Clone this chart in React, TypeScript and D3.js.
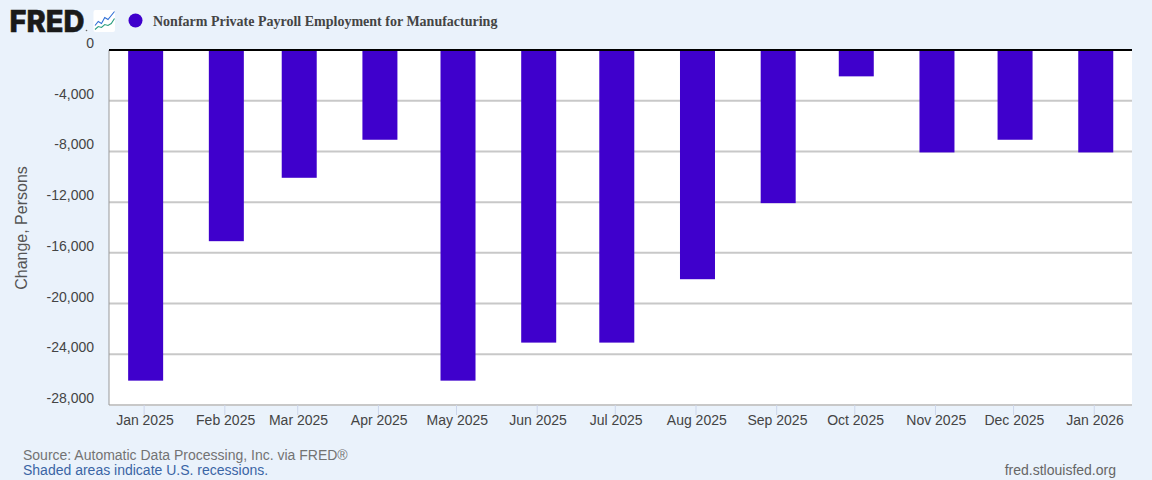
import * as d3 from "d3";

const months = [
  "2025-01-01", "2025-02-01", "2025-03-01", "2025-04-01", "2025-05-01", "2025-06-01", "2025-07-01",
  "2025-08-01", "2025-09-01", "2025-10-01", "2025-11-01", "2025-12-01", "2026-01-01",
];
const changes = [-26000, -15000, -10000, -7000, -26000, -23000, -23000, -18000, -12000, -2000, -8000, -7000, -8000];
const yTicks = [0, -4000, -8000, -12000, -16000, -20000, -24000, -28000];
// little zigzags of the logo icon
const logoBlue = [15, 11, 13, 7, 9, 5, 1];
const logoGreen = [19, 16, 17, 14, 15, 13, 8];

const width = 1152;
const height = 480;
const margin = { top: 50, right: 20, bottom: 75, left: 109 };
const sans = "Arial, 'Liberation Sans', sans-serif";
const bgColor = "#eaf2fb";
const barColor = "#3f00cc";
const barOverhang = 1;

const parse = d3.utcParse("%Y-%m-%d");
const dates = months.map((m) => parse(m) as Date);
const fmt = d3.utcFormat("%b %Y");
const tickFmt = d3.formatLocale({ decimal: ".", thousands: ",", grouping: [3], currency: ["$", ""], minus: "-" }).format(",");

export default function App() {
  const x = d3
    .scaleUtc()
    .domain([d3.utcHour.offset(dates[0], -324), d3.utcHour.offset(dates[12], 348)])
    .range([margin.left, width - margin.right]);
  const y = d3.scaleLinear().domain([0, -28000]).range([margin.top, height - margin.bottom]);

  const iconX = d3.scaleLinear().domain([0, 6]).range([95, 114.5]);
  const iconY = d3.scaleLinear().domain([0, 20]).range([10.5, 30.5]);
  const iconLine = d3
    .line<number>()
    .x((_, i) => iconX(i))
    .y((d) => iconY(d));

  return (
    <svg width={width} height={height} style={{ position: "absolute", left: 0, top: 0, display: "block" }} fontFamily={sans}>
      <rect width={width} height={height} fill={bgColor} />

      <text x={9.5} y={32} fontFamily="Inter, Arial, sans-serif" fontWeight={800} fontSize={30} fill="#1a1a1a" stroke="#1a1a1a" strokeWidth={0.6} textLength={75} lengthAdjust="spacingAndGlyphs">
        FRED
      </text>
      <circle cx={86.5} cy={30.5} r={0.8} fill="#666" />
      <rect x={93.5} y={10} width={21.5} height={22} rx={2} fill="#fff" />
      <path d={iconLine(logoBlue) ?? ""} fill="none" stroke="#2f6fd6" strokeWidth={1.1} />
      <path d={iconLine(logoGreen) ?? ""} fill="none" stroke="#2a9d7e" strokeWidth={1.1} />

      <circle cx={135.5} cy={20.5} r={7} fill={barColor} />
      <text x={153} y={26} fontFamily="'Liberation Serif', 'Times New Roman', serif" fontWeight={700} fontSize={14} fill="#444">
        Nonfarm Private Payroll Employment for Manufacturing
      </text>

      <rect x={margin.left} y={margin.top} width={width - margin.left - margin.right} height={height - margin.top - margin.bottom} fill="#fff" />

      {yTicks.slice(1).map((t) => (
        <line key={t} x1={margin.left} x2={width - margin.right} y1={y(t)} y2={y(t)} stroke="#c8c8c8" strokeWidth={2} />
      ))}

      {dates.map((d, i) => (
        <rect key={months[i]} x={x(d) - 17.5 + 1.5} y={y(0)} width={35} height={y(changes[i]) - y(0) + barOverhang} fill={barColor} />
      ))}

      <line x1={margin.left} x2={margin.left} y1={margin.top} y2={height - margin.bottom} stroke="#999" strokeWidth={1} />
      <line x1={margin.left} x2={width - margin.right} y1={y(0)} y2={y(0)} stroke="#000" strokeWidth={2} />

      {yTicks.map((t) => (
        <text key={t} x={94} y={y(t) - 2} textAnchor="end" fontSize={14} fill="#444">
          {tickFmt(t)}
        </text>
      ))}

      {dates.map((d) => (
        <g key={+d}>
          <line x1={x(d)} x2={x(d)} y1={height - margin.bottom} y2={height - margin.bottom + 10} stroke="#ccd6eb" strokeWidth={1} />
          <text x={x(d) + 0.8} y={425} textAnchor="middle" fontSize={14} fill="#444">
            {fmt(d)}
          </text>
        </g>
      ))}

      <text transform={`translate(27,228) rotate(-90)`} textAnchor="middle" fontSize={16} fill="#555">
        Change, Persons
      </text>

      <text x={23} y={460} fontSize={14} fill="#737373">
        Source: Automatic Data Processing, Inc. via FRED®
      </text>
      <text x={23} y={475} fontSize={14} fill="#3a65a5">
        Shaded areas indicate U.S. recessions.
      </text>
      <text x={1116} y={475} textAnchor="end" fontSize={14} fill="#666">
        fred.stlouisfed.org
      </text>
    </svg>
  );
}
